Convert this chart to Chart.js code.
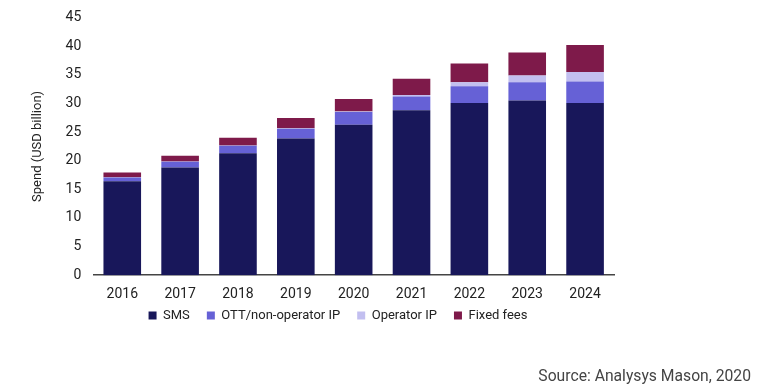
<!DOCTYPE html>
<html>
<head>
<meta charset="utf-8">
<script src="https://cdn.jsdelivr.net/npm/chart.js@4.4.1/dist/chart.umd.min.js"></script>
<style>
    html, body { margin: 0; padding: 0; background: #fff; }
    #wrap { position: absolute; left: 0; top: 0; width: 771px; height: 392px; }
    #source {
        position: absolute; right: 20px; top: 366px;
        font-family: Roboto, sans-serif; font-size: 15.7px; color: #444;
    }
</style>
</head>
<body>
<div id="wrap"><canvas id="chart"></canvas></div>
<div id="source">Source: Analysys Mason, 2020</div>
<script>
// 연도 및 지출 (USD billion)
const years = ['2016', '2017', '2018', '2019', '2020', '2021', '2022', '2023', '2024'];
const sms        = [16.4, 18.8, 21.3, 23.9, 26.3, 28.8, 30.1, 30.5, 30.1];
const ott        = [0.65, 1.0, 1.3, 1.7, 2.2, 2.4, 2.9, 3.2, 3.75];
const operatorIp = [0.05, 0.05, 0.05, 0.05, 0.1, 0.3, 0.7, 1.2, 1.65];
const fixedFees  = [0.85, 1.0, 1.35, 1.8, 2.2, 2.8, 3.3, 4.0, 4.7];

const COLORS = {
    sms: '#18175a',
    ott: '#6661d6',
    op: '#c2bff0',
    fixed: '#7e1a4a'
};

const FONT = 'Roboto, sans-serif';

function makeSet(label, data, color) {
    return {
        label,
        data,
        backgroundColor: color,
        borderWidth: 0,
        categoryPercentage: 0.65,
        barPercentage: 1.0
    };
}

// 범례 위치 보정 (오른쪽, 위쪽으로)
const legendShift = {
    id: 'legendShift',
    afterLayout(chart) {
        const lg = chart.legend;
        if (!lg) return;
        lg.left += 32;
        lg.top -= 22;
        lg.bottom -= 22;
    }
};

window.onload = function() {
    const ctx = document.getElementById('chart').getContext('2d');
    new Chart(ctx, {
        type: 'bar',
        data: {
            labels: years,
            datasets: [
                makeSet('SMS', sms, COLORS.sms),
                makeSet('OTT/non-operator IP', ott, COLORS.ott),
                makeSet('Operator IP', operatorIp, COLORS.op),
                makeSet('Fixed fees', fixedFees, COLORS.fixed)
            ]
        },
        plugins: [legendShift],
        options: {
            responsive: true,
            maintainAspectRatio: false,
            animation: false,
            layout: { padding: { left: 30, right: 157, top: 6, bottom: 38 } },
            plugins: {
                tooltip: { enabled: false },
                legend: {
                    position: 'bottom',
                    labels: {
                        boxWidth: 8,
                        boxHeight: 8,
                        padding: 17,
                        color: '#222',
                        font: { family: FONT, size: 13 }
                    }
                }
            },
            scales: {
                x: {
                    stacked: true,
                    grid: { display: false, drawTicks: false },
                    border: { display: true, color: '#444', width: 1.5 },
                    ticks: { color: '#222', padding: 11, font: { family: FONT, size: 14 } }
                },
                y: {
                    stacked: true,
                    min: 0,
                    max: 45,
                    grid: { display: false, drawTicks: false },
                    border: { display: false },
                    ticks: { stepSize: 5, color: '#222', padding: 12, font: { family: FONT, size: 14, lineHeight: 0.8 } },
                    title: {
                        display: true,
                        text: 'Spend (USD billion)',
                        color: '#222',
                        padding: { top: 0, bottom: 8 },
                        font: { family: FONT, size: 13 }
                    }
                }
            }
        }
    });
};
</script>
</body>
</html>
